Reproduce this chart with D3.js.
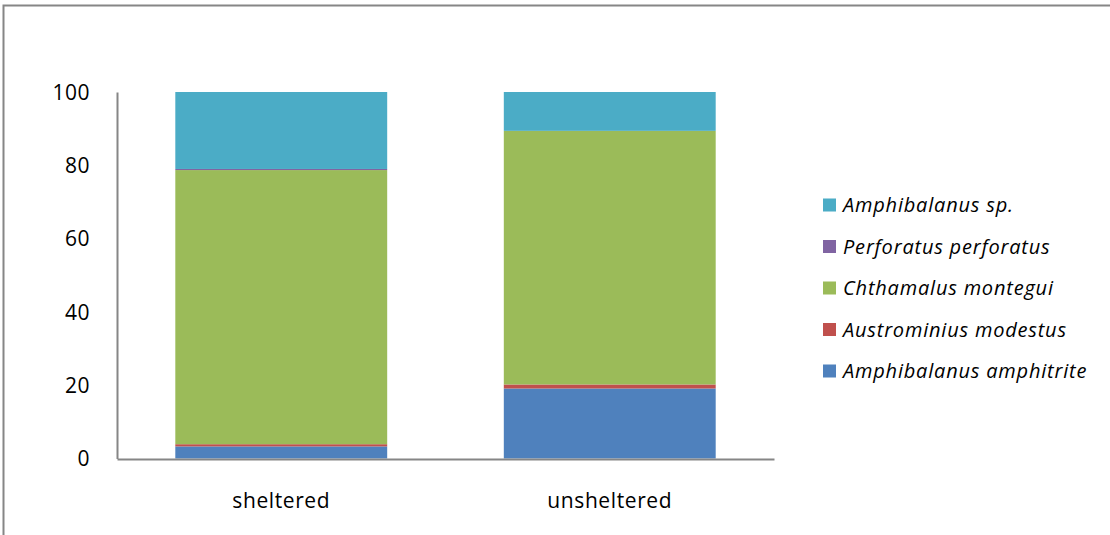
<!DOCTYPE html>
<html>
<head>
<meta charset="utf-8">
<script src="https://cdn.jsdelivr.net/npm/d3@7"></script>
<style>
  body { margin: 0; background: #fff; }
  text { font-family: "Open Sans", sans-serif; fill: #000; }
</style>
</head>
<body>
<div id="chart"></div>
<script>
// sites on the x axis
var sites = ["sheltered", "unsheltered"];

// species, bottom of the stack first
var species = ["Amphibalanus amphitrite", "Austrominius modestus", "Chthamalus montegui", "Perforatus perforatus", "Amphibalanus sp."];
var colors = ["#4f81bd", "#c0504d", "#9bbb59", "#8064a2", "#4bacc6"];

// percent per species, one value per site
var amphitrite = [3.3, 19.1];
var modestus = [0.6, 1.1];
var montegui = [74.8, 69.2];
var perforatus = [0.3, 0.0];
var amphibalanusSp = [21.0, 10.6];

var yTicks = [0, 20, 40, 60, 80, 100];

var series = [amphitrite, modestus, montegui, perforatus, amphibalanusSp];
var data = sites.map(function(s, i) {
  var row = {site: s};
  species.forEach(function(sp, j) { row[sp] = series[j][i]; });
  return row;
});

var width = 1110, height = 535;
var margin = {top: 92, left: 117, bottom: 76};
var plotW = 657, plotH = height - margin.top - margin.bottom;

var svg = d3.select("#chart").append("svg")
    .attr("width", width)
    .attr("height", height);

// outer frame (runs off the right and bottom)
svg.append("rect")
    .attr("x", 3.5).attr("y", 5.5)
    .attr("width", width + 10).attr("height", height + 10)
    .attr("fill", "none")
    .attr("stroke", "#868686")
    .attr("stroke-width", 2);

var g = svg.append("g")
    .attr("transform", "translate(" + margin.left + "," + margin.top + ")");

var x = d3.scaleBand()
    .domain(sites)
    .range([0, plotW])
    .paddingInner(0.355)
    .paddingOuter(0.1775);

var y = d3.scaleLinear()
    .domain([0, 100])
    .range([plotH - 0.5, 0]);

var color = d3.scaleOrdinal().domain(species).range(colors);

var stack = d3.stack().keys(species);

var layer = g.selectAll(".layer")
    .data(stack(data))
  .enter().append("g")
    .attr("class", "layer")
    .style("fill", function(d) { return color(d.key); });

layer.selectAll("rect")
    .data(function(d) { return d; })
  .enter().append("rect")
    .attr("x", function(d) { return x(d.data.site); })
    .attr("width", x.bandwidth())
    .attr("y", function(d) { return y(d[1]); })
    .attr("height", function(d) { return y(d[0]) - y(d[1]); });

// y axis
var yAxis = g.append("g")
    .call(d3.axisLeft(y).tickValues(yTicks).tickSize(0).tickPadding(27));
yAxis.select(".domain").attr("stroke", "#868686").attr("stroke-width", 2);
yAxis.selectAll("text")
    .style("font-size", "21px")
    .style("font-family", "'Open Sans', sans-serif")
    .style("letter-spacing", "0.5px")
    .attr("dy", "0.35em");

// x axis
var xAxis = g.append("g")
    .attr("transform", "translate(0," + (plotH) + ")")
    .call(d3.axisBottom(x).tickSize(0).tickPadding(34));
xAxis.select(".domain").attr("stroke", "#868686").attr("stroke-width", 2);
xAxis.selectAll("text")
    .style("font-size", "21px")
    .style("font-family", "'Open Sans', sans-serif")
    .style("letter-spacing", "0.6px");

// legend, top of stack first
var legend = svg.selectAll(".legend")
    .data(species.slice().reverse())
  .enter().append("g")
    .attr("class", "legend")
    .attr("transform", function(d, i) { return "translate(823," + (205 + i * 41.5) + ")"; });

legend.append("rect")
    .attr("x", 0).attr("y", -6.5)
    .attr("width", 13).attr("height", 13)
    .style("fill", color);

legend.append("text")
    .attr("x", 20)
    .attr("dy", "0.35em")
    .style("font-size", "20px")
    .style("font-style", "italic")
    .style("letter-spacing", "0.8px")
    .text(function(d) { return d; });
</script>
</body>
</html>
